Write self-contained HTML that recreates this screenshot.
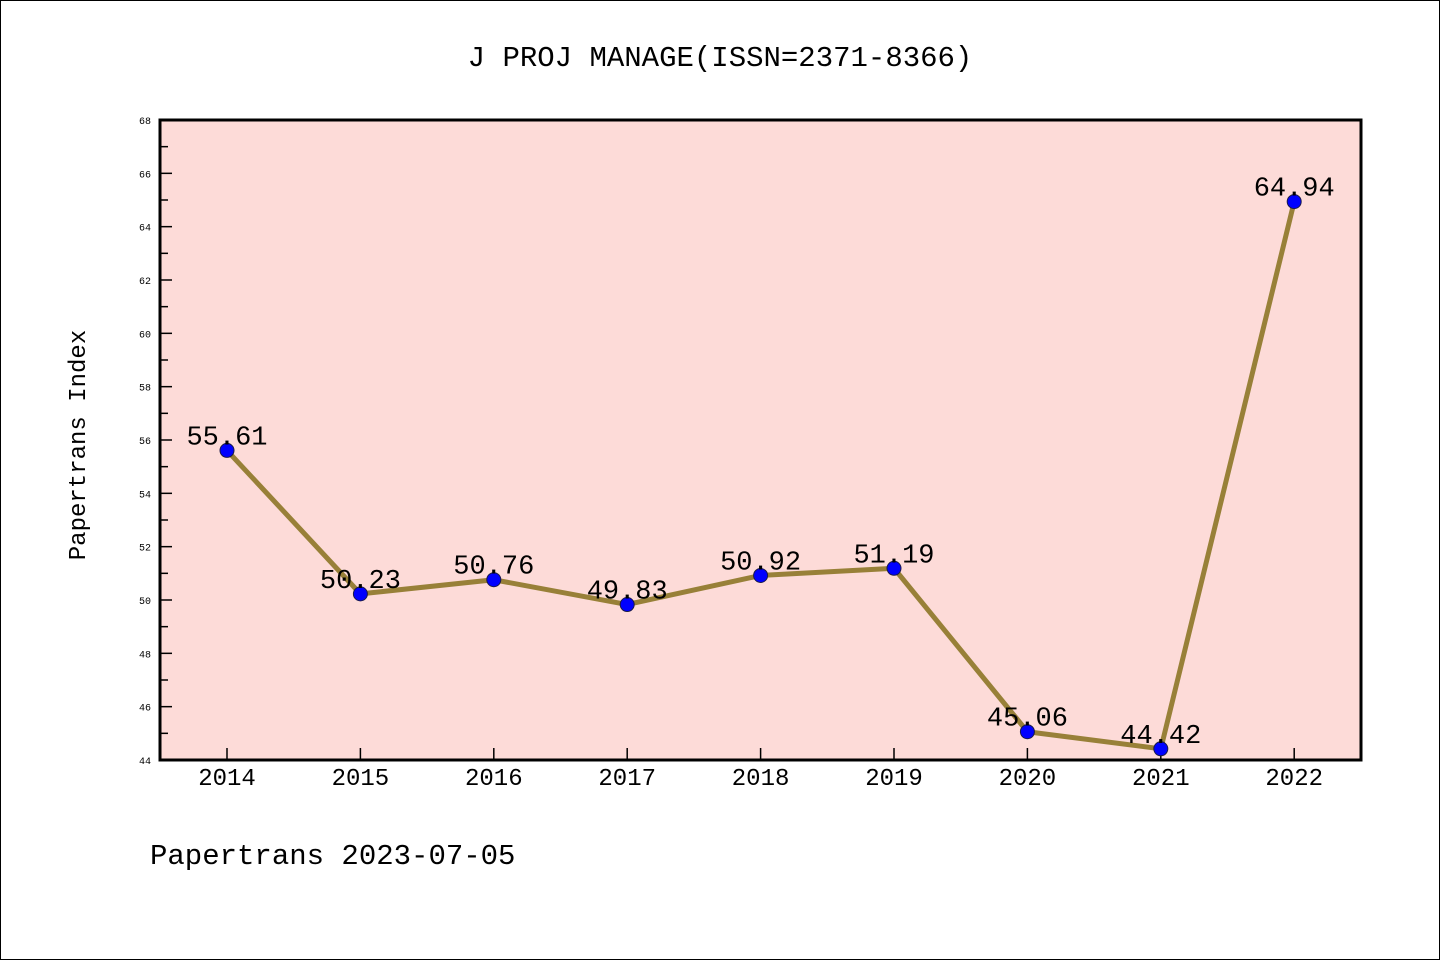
<!DOCTYPE html>
<html><head><meta charset="utf-8"><style>
body{margin:0;background:#fff;}
svg{display:block;font-family:"WenQuanYi Zen Hei Mono","WenQuanYi Zen Hei","Liberation Mono",monospace;}
</style></head><body>
<svg id="chart" width="1440" height="960">
<rect x="0.5" y="0.5" width="1439" height="959" fill="#fff" stroke="#000"/>
<text x="720" y="66" font-size="29" text-anchor="middle">J PROJ MANAGE(ISSN=2371-8366)</text>
<text transform="translate(85,445) rotate(-90)" font-size="24" text-anchor="middle">Papertrans Index</text>
<text x="150" y="864" font-size="29">Papertrans 2023-07-05</text>
<rect x="160" y="120" width="1201" height="640" fill="#fddbd8"/>
<g id="ticks"></g>
<g id="series"></g>
<rect x="160" y="120" width="1201" height="640" fill="none" stroke="#000" stroke-width="3"/>
</svg>
<script>
const years=["2014","2015","2016","2017","2018","2019","2020","2021","2022"];
const values=[55.61,50.23,50.76,49.83,50.92,51.19,45.06,44.42,64.94];
const labels=["55.61","50.23","50.76","49.83","50.92","51.19","45.06","44.42","64.94"];
const yTicks=[44,46,48,50,52,54,56,58,60,62,64,66,68];
const NS="http://www.w3.org/2000/svg";
const yMin=44,yMax=68,plotTop=120,plotBot=760;
function ys(v){return plotBot-(v-yMin)/(yMax-yMin)*(plotBot-plotTop);}
function xs(i){return 227+i*133.4;}
function mk(t,a,p){const e=document.createElementNS(NS,t);for(const k in a)e.setAttribute(k,a[k]);p.appendChild(e);return e;}
const tg=document.getElementById('ticks'),sg=document.getElementById('series');
yTicks.forEach((v,i)=>{
 const y=ys(v);
 const l=mk('line',{x1:160,x2:172,y1:y,y2:y,stroke:'#000','stroke-width':1.5},tg);
 
 
 const t=mk('text',{x:151,y:y+4,'font-size':10,'text-anchor':'end'},tg);
 t.textContent=v;
 
 
 if(i<yTicks.length-1){const ym=ys(v+1);
 const m=mk('line',{x1:160,x2:168,y1:ym,y2:ym,stroke:'#000','stroke-width':1.5},tg);
 
 }
});
years.forEach((yr,i)=>{
 const x=xs(i);
 const l=mk('line',{x1:x,x2:x,y1:760,y2:748,stroke:'#000','stroke-width':1.5},tg);
 
 
 const t=mk('text',{x:x,y:785,'font-size':24,'text-anchor':'middle'},tg);
 t.textContent=yr;
 
 
});
const pl=mk('polyline',{points:values.map((v,i)=>xs(i)+','+ys(v)).join(' '),fill:'none',stroke:'#988038','stroke-width':5,'stroke-linejoin':'round'},sg);


values.forEach((v,i)=>{
 const c=mk('circle',{cx:xs(i),cy:ys(v),r:7,fill:'#0000ff',stroke:'#1a1a4a','stroke-width':1},sg);
 
 
 const t=mk('text',{x:xs(i),y:ys(v)-6,'font-size':27,'text-anchor':'middle'},sg);
 t.textContent=labels[i];
 
 
});
</script>
</body></html>
